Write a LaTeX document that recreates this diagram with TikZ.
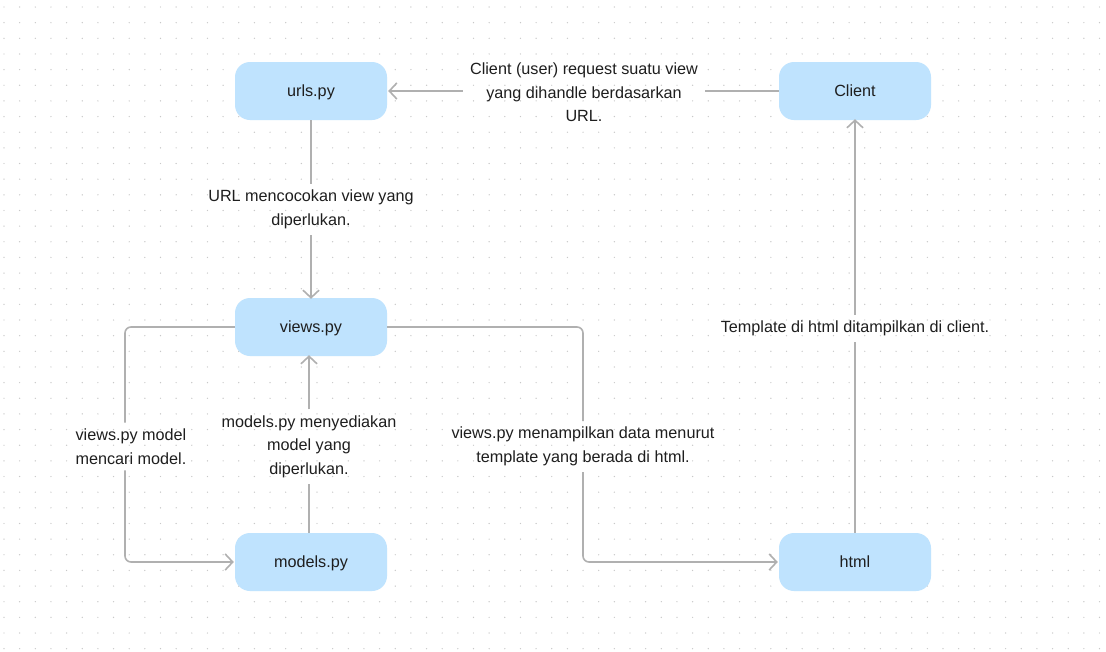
\documentclass[tikz,border=0pt]{standalone}
\usepackage{fontspec}
\setmainfont{Liberation Sans}
\usetikzlibrary{arrows.meta}
\definecolor{boxblue}{HTML}{BFE3FE}
\definecolor{linegray}{HTML}{B0B0B0}
\definecolor{txt}{HTML}{1E1E1E}
\definecolor{dotgray}{HTML}{C8C8C8}
\tikzset{
  box/.style={draw=none, fill=boxblue, rounded corners=15pt, minimum width=152pt, minimum height=58pt, text=txt, font=\fontsize{16.2}{19}\selectfont, text height=11.6pt, text depth=0pt},
  lbl/.style={align=center, text=txt, font=\fontsize{16.2}{23.5}\selectfont, inner xsep=7pt, inner ysep=6pt, yshift=-1.5pt},
  conn/.style={draw=linegray, line width=1.6pt, rounded corners=6pt},
  arr/.style={conn, -{Straight Barb[length=7.5pt,width=16pt,line width=1.6pt]}},
}
\begin{document}
\begin{tikzpicture}[x=1pt,y=-1pt]
\useasboundingbox (0,0) rectangle (1106,651);
\fill[white] (0,0) rectangle (1106,651);
\foreach \i in {0,...,70} {
  \foreach \j in {0,...,41} {
    \fill[dotgray] ({4+15.65*\i},{7+15.65*\j}) circle (0.7pt);
  }
}
\node[box] (urls) at (311,91) {urls.py};
\node[box] (client) at (855,91) {Client};
\node[box] (views) at (311,327) {views.py};
\node[box] (models) at (311,562) {models.py};
\node[box] (html) at (855,562) {html};

\node[lbl] (l1) at (584,91) {Client (user) request suatu view\\yang dihandle berdasarkan\\URL.};
\node[lbl] (l2) at (311,208) {URL mencocokan view yang\\diperlukan.};
\node[lbl] (l3) at (309,445) {models.py menyediakan\\model yang\\diperlukan.};
\node[lbl] (l4) at (131,445) {views.py model\\mencari model.};
\node[lbl] (l5) at (583,445) {views.py menampilkan data menurut\\template yang berada di html.};
\node[lbl] (l6) at (855,327) {Template di html ditampilkan di client.};

\coordinate (c4) at (125,445);
\coordinate (c5) at (583,445);

% Client -> urls
\draw[conn] (client.west) -- (l1.east |- client.west);
\draw[arr] (l1.west |- urls.east) -- ([xshift=1pt]urls.east);
% urls -> views
\draw[conn] (urls.south) -- (l2.north);
\draw[arr] (l2.south) -- ([yshift=-1pt]views.north);
% models -> views
\draw[conn] (models.north -| l3) -- (l3.south);
\draw[arr] (l3.north) -- ([yshift=1pt]views.south -| l3);
% views -> models
\draw[conn] (views.west) -| (c4 |- l4.north);
\draw[arr] (c4 |- l4.south) |- ([xshift=-1pt]models.west);
% views -> html
\draw[conn] (views.east) -| (c5 |- l5.north);
\draw[arr] (c5 |- l5.south) |- ([xshift=-1pt]html.west);
% html -> client
\draw[conn] (html.north) -- (l6.south);
\draw[arr] (l6.north) -- ([yshift=1pt]client.south);
\end{tikzpicture}
\end{document}
